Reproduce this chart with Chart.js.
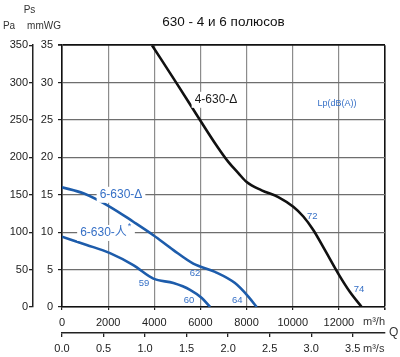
<!DOCTYPE html>
<html><head><meta charset="utf-8">
<script src="https://cdn.jsdelivr.net/npm/chart.js@4/dist/chart.umd.min.js"></script>
<style>html,body{margin:0;padding:0;background:#fff}#wrap{width:400px;height:357px;position:relative}</style>
</head><body><div id="wrap"><canvas id="c"></canvas></div>
<script>
// ---- data ----
const chartTitle = '630 - 4 и 6 полюсов';
const flowMax = 14000;          // m³/h
const flowStep = 2000;
const paMax = 350, paStep = 50; // Pa
const mmMax = 35, mmStep = 5;   // mmWG
const msTicks = [0, 0.5, 1, 1.5, 2, 2.5, 3, 3.5]; // m³/s

// 4-630-Δ
const q4Delta = [3900, 4950, 5980, 6631, 7209, 7643, 8005, 8655, 9375, 10025, 10460, 10892, 11398, 12005, 12482, 12989];
const p4Delta = [350, 300, 250, 219, 194, 179, 167, 156, 147, 134, 121, 103, 76, 43, 20, 0];
// 6-630-Δ
const q6Delta = [0, 925, 2080, 3090, 3960, 4830, 5690, 6631, 7498, 8076, 8438];
const p6Delta = [160, 152, 134, 114, 96, 76, 58, 47, 32, 14, 0];
// 6-630-人*
const q6Star = [0, 1070, 2080, 3090, 3960, 4830, 5550, 6060, 6420];
const p6Star = [94, 83, 72, 56, 38, 32, 23, 12, 0];

// noise labels Lp dB(A): text, Q, Pa
const lpText = ['59', '60', '62', '64', '72', '74'];
const lpQ = [3554, 5504, 5764, 7598, 10848, 12872];
const lpP = [31, 9, 45, 9, 121, 24];

// curve names
const curveNames = ['4-630-Δ', '6-630-Δ', '6-630-人'];
const nameQ = [6674, 2557, 1907];
const nameP = [277, 150, 99];

const BLUE = '#1d5cab';
const BLUE_TXT = '#3670c6';
const FONT = "'Liberation Sans', Arial, 'Noto Sans CJK SC', sans-serif";

function pts(q, p) { return q.map((v, i) => ({x: v, y: p[i]})); }

const extras = {
  id: 'extras',
  afterDraw(chart) {
    const ctx = chart.ctx;
    const sx = chart.scales.x, sy = chart.scales.y;
    ctx.save();
    ctx.textBaseline = 'middle';
    // axis captions
    ctx.fillStyle = '#333';
    ctx.font = '10px ' + FONT;
    ctx.textAlign = 'center';
    ctx.fillText('Ps', 29.5, 10);
    ctx.fillText('Pa', 9, 26);
    ctx.fillText('mmWG', 44, 26);
    ctx.font = '11px ' + FONT;
    ctx.textAlign = 'left';
    ctx.fillText('m³/h', 363, 322);
    ctx.fillText('m³/s', 363, 349);
    ctx.font = '12px ' + FONT;
    ctx.fillText('Q', 389, 333);

    // curve name labels with white background
    ctx.font = '12px ' + FONT;
    const colors = ['#1a1a1a', BLUE_TXT, BLUE_TXT];
    curveNames.forEach((t, i) => {
      const x = sx.getPixelForValue(nameQ[i]);
      const y = sy.getPixelForValue(nameP[i]);
      const star = i === 2;
      const w = ctx.measureText(t).width + (star ? 5 : 0);
      ctx.fillStyle = '#fff';
      ctx.fillRect(x - w / 2 - 3, y - 8, w + 6, 16);
      ctx.fillStyle = colors[i];
      ctx.textAlign = 'left';
      ctx.fillText(t, x - w / 2, y);
      if (star) {
        ctx.font = '9px ' + FONT;
        ctx.fillText('*', x + w / 2 - 4, y - 6);
        ctx.font = '12px ' + FONT;
      }
    });

    // Lp values
    ctx.fillStyle = BLUE_TXT;
    ctx.font = '9.5px ' + FONT;
    ctx.textAlign = 'center';
    lpText.forEach((t, i) => {
      ctx.fillText(t, sx.getPixelForValue(lpQ[i]), sy.getPixelForValue(lpP[i]));
    });
    ctx.font = '9px ' + FONT;
    ctx.fillText('Lp(dB(A))', sx.getPixelForValue(11918), sy.getPixelForValue(272));
    ctx.restore();
  }
};

const tickFont = {family: FONT, size: 11};

new Chart(document.getElementById('c'), {
  type: 'scatter',
  data: {
    datasets: [
      {data: pts(q4Delta, p4Delta), borderColor: '#111', borderWidth: 2.6},
      {data: pts(q6Delta, p6Delta), borderColor: BLUE, borderWidth: 2.6},
      {data: pts(q6Star, p6Star), borderColor: BLUE, borderWidth: 2.6}
    ].map(d => Object.assign(d, {showLine: true, pointRadius: 0, cubicInterpolationMode: 'monotone', xAxisID: 'x', yAxisID: 'y'}))
  },
  options: {
    responsive: true,
    maintainAspectRatio: false,
    animation: false,
    layout: {padding: {top: 4, right: 15, bottom: 0, left: 0}},
    plugins: {
      legend: {display: false},
      tooltip: {enabled: false},
      title: {
        display: true, text: chartTitle, fullSize: false, color: '#111',
        font: {family: FONT, size: 13.5, weight: 'normal'},
        padding: {top: 10, bottom: 15}
      }
    },
    scales: {
      x: {
        type: 'linear', position: 'bottom', weight: 1,
        min: 0, max: flowMax,
        ticks: {stepSize: flowStep, color: '#222', font: tickFont, padding: 6,
          callback: v => v === flowMax ? '' : String(v)},
        grid: {
          color: c => c.tick && c.tick.value === flowMax ? '#111' : '#8c8c8c',
          lineWidth: c => c.tick && c.tick.value === flowMax ? 1.6 : 1.2,
          tickLength: 3, tickColor: '#222'
        },
        border: {color: '#111', width: 1.6},
        afterFit: s => { s.height = 26; }
      },
      x2: {
        type: 'linear', position: 'bottom', weight: 2,
        min: 0, max: flowMax / 3600,
        afterBuildTicks: s => { s.ticks = msTicks.map(v => ({value: v})); },
        ticks: {color: '#222', font: tickFont, padding: 5, callback: v => v.toFixed(1)},
        grid: {drawOnChartArea: false, tickLength: 4, tickColor: '#222', lineWidth: 1.3},
        border: {color: '#222', width: 1.5},
        afterFit: s => { s.height = 24; }
      },
      y: {
        type: 'linear', position: 'left', weight: 2,
        min: 0, max: paMax,
        ticks: {stepSize: paStep, color: '#222', font: tickFont, padding: 1},
        grid: {drawOnChartArea: false, tickLength: 4, tickColor: '#222', lineWidth: 1.3},
        border: {color: '#222', width: 1.5},
        afterFit: s => { s.width = 33; }
      },
      y2: {
        type: 'linear', position: 'left', weight: 1,
        min: 0, max: mmMax,
        ticks: {stepSize: mmStep, color: '#222', font: tickFont, padding: 5},
        grid: {
          color: c => c.tick && c.tick.value === mmMax ? '#111' : '#6e6e6e',
          lineWidth: c => c.tick && c.tick.value === mmMax ? 1.8 : 1.2,
          tickLength: 4, tickColor: '#222'
        },
        border: {color: '#111', width: 1.6},
        afterFit: s => { s.width = 29; }
      }
    }
  },
  plugins: [extras]
});
</script>
</body></html>
